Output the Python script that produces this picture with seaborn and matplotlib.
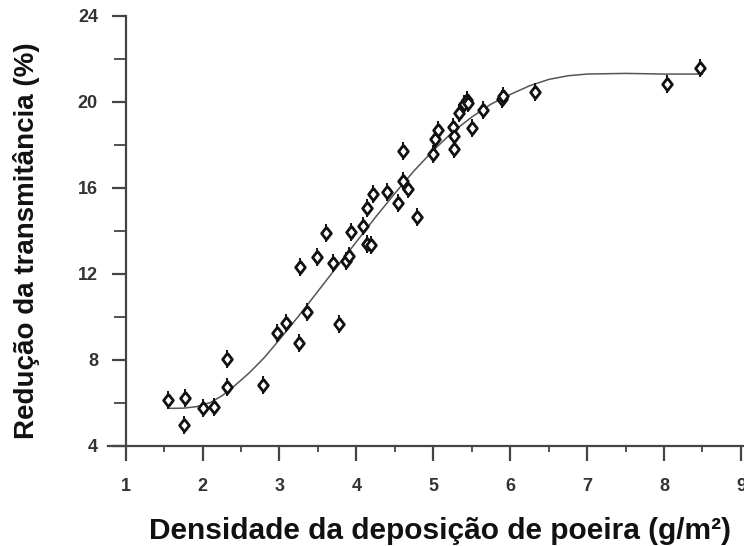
import numpy as np
import pandas as pd
import matplotlib
matplotlib.use("Agg")
import matplotlib.pyplot as plt
from matplotlib.ticker import MultipleLocator
import seaborn as sns

# Measured points: dust deposition density (g/m²) vs transmittance reduction (%)
densidade = [1.555, 1.773, 1.763, 2.003, 2.147, 2.312, 2.323, 2.787, 2.963, 3.085,
             3.251, 3.272, 3.363, 3.485, 3.603, 3.693, 3.773, 3.869, 3.907, 3.928,
             4.083, 4.136, 4.136, 4.184, 4.221, 4.392, 4.547, 4.611, 4.605, 4.675,
             4.787, 5.000, 5.021, 5.064, 5.251, 5.272, 5.267, 5.331, 5.395, 5.437,
             5.453, 5.501, 5.651, 5.891, 5.907, 6.317, 8.035, 8.472]
reducao = [6.12, 6.25, 4.96, 5.78, 5.83, 8.06, 6.76, 6.84, 9.27, 9.74,
           8.81, 12.34, 10.23, 12.81, 13.92, 12.50, 9.66, 12.60, 12.84, 13.97,
           14.23, 15.09, 13.38, 13.35, 15.74, 15.81, 15.29, 17.72, 16.33, 15.97,
           14.67, 17.60, 18.26, 18.70, 18.85, 18.42, 17.83, 19.50, 19.89, 20.09,
           19.94, 18.81, 19.61, 20.12, 20.28, 20.47, 20.82, 21.57]

# Fitted trend curve
curva_x = [1.57, 1.75, 1.92, 2.10, 2.25, 2.40, 2.60, 2.80, 3.00, 3.25, 3.50, 3.75,
           4.00, 4.25, 4.50, 4.75, 5.00, 5.25, 5.50, 5.75, 6.00, 6.25, 6.50, 6.75,
           7.00, 7.50, 8.00, 8.50]
curva_y = [5.75, 5.76, 5.83, 6.02, 6.33, 6.75, 7.38, 8.10, 8.95, 10.05, 11.2, 12.35,
           13.5, 14.65, 15.75, 16.8, 17.75, 18.6, 19.3, 19.9, 20.35, 20.75, 21.05, 21.22,
           21.3, 21.33, 21.3, 21.3]

x_ticks = [1, 2, 3, 4, 5, 6, 7, 8, 9]
y_ticks = [4, 8, 12, 16, 20, 24]

pontos = pd.DataFrame({"x": densidade, "y": reducao})
curva = pd.DataFrame({"x": curva_x, "y": curva_y})

sns.set_theme(style="white")
plt.rcParams["font.family"] = ["Liberation Sans", "DejaVu Sans"]

fig = plt.figure(figsize=(7.44, 5.46), dpi=100)
ax = fig.add_axes([108 / 744, 100 / 546, 636 / 744, 430 / 546])

# diamond marker, slightly taller than wide
losango = [(0, 1), (0.78, 0), (0, -1), (-0.78, 0), (0, 1)]

sns.lineplot(data=curva, x="x", y="y", ax=ax, color="#555555", linewidth=1.1,
             sort=False, zorder=2)
sns.scatterplot(data=pontos, x="x", y="y", ax=ax, marker="|", s=150,
                color="#111111", linewidth=1.4, zorder=3, clip_on=False)
sns.scatterplot(data=pontos, x="x", y="y", ax=ax, marker=losango, s=80,
                facecolor="white", edgecolor="#111111", linewidth=2.0,
                zorder=4, clip_on=False)

ax.set_xlim(0.77, 9.04)
ax.set_ylim(4, 24)
ax.set_xticks(x_ticks)
ax.set_yticks(y_ticks)
ax.xaxis.set_minor_locator(MultipleLocator(0.5))
ax.yaxis.set_minor_locator(MultipleLocator(2))

for s in ["top", "right"]:
    ax.spines[s].set_visible(False)
ax.spines["left"].set_position(("data", 1))
for s in ["left", "bottom"]:
    ax.spines[s].set_color("#444444")
    ax.spines[s].set_linewidth(1.6)

ax.tick_params(axis="x", which="major", direction="out", length=11, width=1.6,
               color="#444444", pad=12, labelsize=13, labelcolor="#333333", bottom=True)
ax.tick_params(axis="x", which="minor", direction="out", length=4, width=1.3,
               color="#444444", bottom=True)
ax.tick_params(axis="y", which="major", direction="out", length=10, width=1.6,
               color="#444444", pad=10, labelsize=13, labelcolor="#333333", left=True)
ax.tick_params(axis="y", which="minor", direction="out", length=9, width=1.3,
               color="#444444", left=True)
for lab in ax.get_xticklabels() + ax.get_yticklabels():
    lab.set_fontweight("bold")

ax.set_xlabel("Densidade da deposição de poeira (g/m²)", fontsize=21.5,
              fontweight="bold", color="#111111")
ax.set_ylabel("Redução da transmitância (%)", fontsize=20,
              fontweight="bold", color="#111111")
ax.xaxis.label.set_va("center")
ax.yaxis.label.set_va("center")
ax.xaxis.set_label_coords(0.522, -0.198)
ax.yaxis.set_label_coords(-0.128, 0.477)

fig.savefig("out.png", dpi=100)
